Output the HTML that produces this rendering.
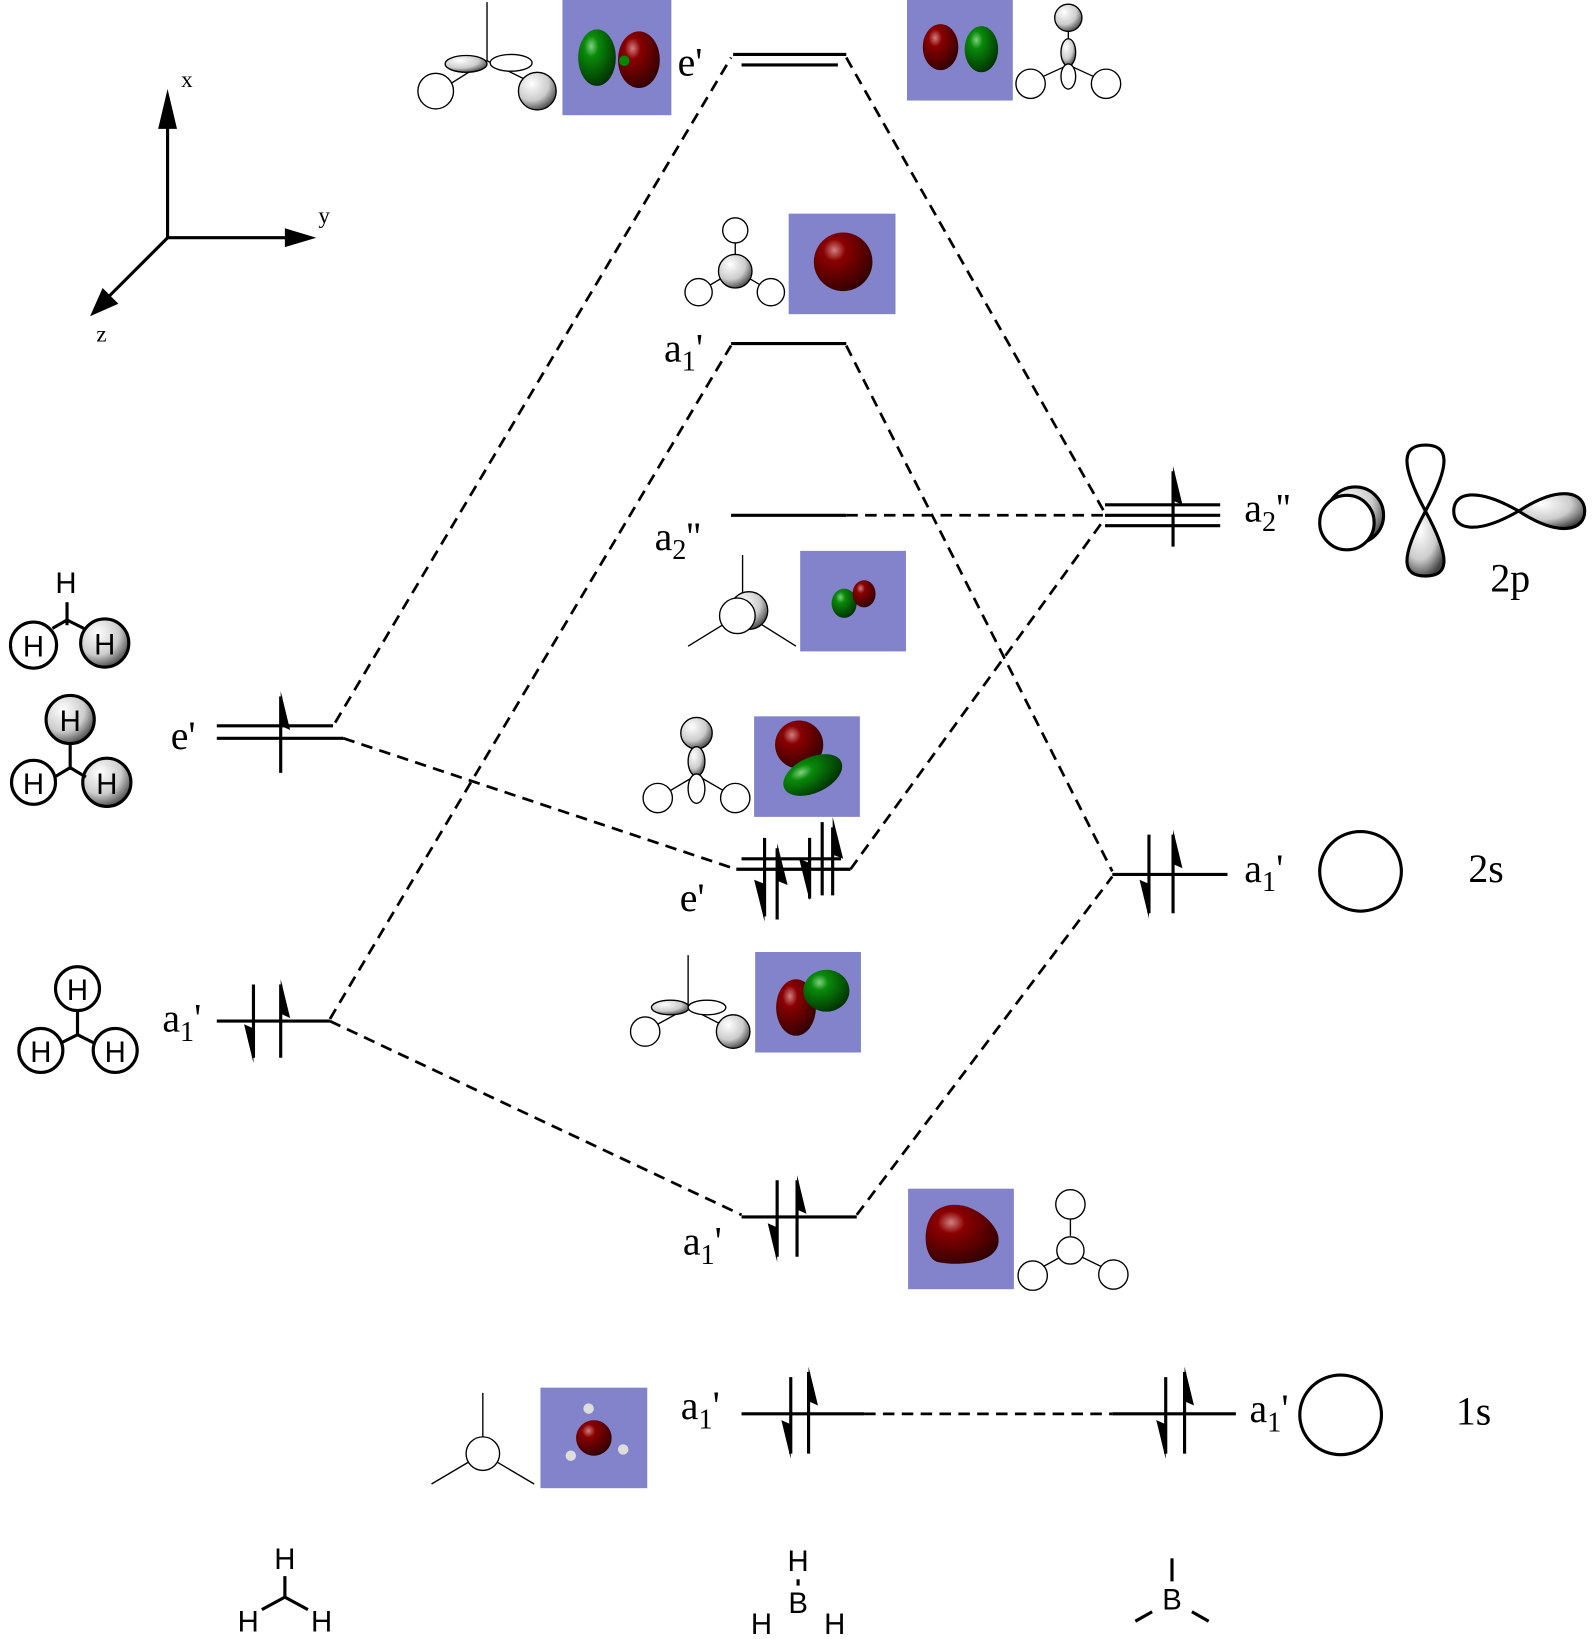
<!DOCTYPE html>
<html><head><meta charset="utf-8"><style>
html,body{margin:0;padding:0;background:#fff;}
svg{display:block}
text{font-family:"Liberation Serif","Times New Roman",serif;fill:#000}
text.s{font-family:"Liberation Sans",sans-serif}
</style></head><body>
<svg width="1592" height="1639" viewBox="0 0 1520 1565" preserveAspectRatio="none" xmlns="http://www.w3.org/2000/svg">
<defs>
<radialGradient id="gw" cx="0.35" cy="0.3" r="0.75"><stop offset="0" stop-color="#fff"/><stop offset="0.6" stop-color="#ccc"/><stop offset="1" stop-color="#444"/></radialGradient>
<radialGradient id="gr" cx="0.35" cy="0.3" r="0.75"><stop offset="0" stop-color="#d08080"/><stop offset="0.25" stop-color="#8a0000"/><stop offset="1" stop-color="#300000"/></radialGradient>
<radialGradient id="gg" cx="0.35" cy="0.3" r="0.75"><stop offset="0" stop-color="#80d080"/><stop offset="0.25" stop-color="#0a8a0a"/><stop offset="1" stop-color="#003000"/></radialGradient>
</defs>
<g stroke="#000" fill="none">
<g stroke-width="3"><line x1="160" y1="227" x2="160" y2="110"/><line x1="160" y1="227" x2="278" y2="227"/><line x1="160" y1="227" x2="100" y2="287"/></g>
</g>
<polygon points="160,85 151,123 169,123" fill="#000"/>
<polygon points="302,227 272,218 272,236" fill="#000"/>
<polygon points="86,302 98,275 113,290" fill="#000"/>
<text x="173" y="83" font-size="22">x</text>
<text x="304" y="213" font-size="22">y</text>
<text x="92" y="326" font-size="22">z</text>

<g fill="#8383cc">
<rect x="537" y="0" width="104" height="110"/><rect x="866" y="0" width="101" height="96"/>
<rect x="753" y="204" width="102" height="96"/><rect x="764" y="526" width="101" height="96"/>
<rect x="720" y="684" width="101" height="96"/><rect x="721" y="909" width="101" height="96"/>
<rect x="867" y="1135" width="101" height="96"/><rect x="516" y="1325" width="102" height="96"/>
</g>
<ellipse cx="570" cy="55" rx="18" ry="27" fill="url(#gg)"/><ellipse cx="610" cy="57" rx="20" ry="27" fill="url(#gr)"/><circle cx="596" cy="58" r="5" fill="#080"/>
<ellipse cx="898" cy="45" rx="17" ry="22" fill="url(#gr)"/><ellipse cx="937" cy="47" rx="16" ry="22" fill="url(#gg)"/>
<circle cx="805" cy="250" r="28" fill="url(#gr)"/>
<ellipse cx="806" cy="576" rx="12" ry="14" fill="url(#gg)"/><ellipse cx="825" cy="567" rx="11" ry="13" fill="url(#gr)"/>
<circle cx="763" cy="711" r="23" fill="url(#gr)"/><ellipse cx="776" cy="740" rx="30" ry="17" transform="rotate(-25 776 740)" fill="url(#gg)"/>
<ellipse cx="760" cy="962" rx="19" ry="27" fill="url(#gr)"/><ellipse cx="789" cy="946" rx="22" ry="20" fill="url(#gg)"/>
<path d="M895 1155 C920 1140 950 1165 953 1180 C958 1205 920 1210 895 1205 C880 1200 880 1165 895 1155Z" fill="url(#gr)"/>
<circle cx="567" cy="1373" r="17" fill="url(#gr)"/><circle cx="562" cy="1345" r="5" fill="#ddd"/><circle cx="545" cy="1390" r="5" fill="#ddd"/><circle cx="595" cy="1384" r="5" fill="#ddd"/>

<g stroke="#000" stroke-width="1.3" fill="#fff">
<line x1="465" y1="2" x2="465" y2="58"/><line x1="430" y1="80" x2="465" y2="58"/><line x1="465" y1="58" x2="510" y2="80"/>
<ellipse cx="445" cy="61" rx="20" ry="8" fill="url(#gw)"/><ellipse cx="488" cy="60" rx="20" ry="8"/>
<circle cx="416" cy="87" r="17"/><circle cx="513" cy="87" r="18" fill="url(#gw)"/>
<line x1="1020" y1="30" x2="1020" y2="62"/><line x1="985" y1="78" x2="1020" y2="62"/><line x1="1020" y1="62" x2="1055" y2="78"/>
<circle cx="1020" cy="17" r="13" fill="url(#gw)"/><ellipse cx="1020" cy="50" rx="7" ry="13" fill="url(#gw)"/><ellipse cx="1020" cy="73" rx="7" ry="12"/>
<circle cx="984" cy="80" r="14"/><circle cx="1056" cy="80" r="14"/>
<line x1="702" y1="232" x2="702" y2="258"/><line x1="668" y1="278" x2="702" y2="258"/><line x1="702" y1="258" x2="736" y2="278"/>
<circle cx="702" cy="220" r="12"/><circle cx="702" cy="259" r="16" fill="url(#gw)"/><circle cx="667" cy="279" r="13"/><circle cx="736" cy="279" r="13"/>
<line x1="709" y1="530" x2="709" y2="585"/><line x1="657" y1="617" x2="709" y2="585"/><line x1="709" y1="585" x2="760" y2="617"/>
<circle cx="715" cy="583" r="18" fill="url(#gw)"/><circle cx="704" cy="588" r="17"/>
<line x1="628" y1="762" x2="665" y2="740"/><line x1="665" y1="740" x2="703" y2="762"/>
<circle cx="665" cy="700" r="15" fill="url(#gw)"/><ellipse cx="665" cy="727" rx="8" ry="14" fill="url(#gw)"/><ellipse cx="665" cy="753" rx="8" ry="14"/>
<circle cx="628" cy="762" r="14"/><circle cx="702" cy="762" r="14"/>
<line x1="657" y1="912" x2="657" y2="962"/><line x1="617" y1="984" x2="657" y2="962"/><line x1="657" y1="962" x2="700" y2="984"/>
<ellipse cx="640" cy="962" rx="18" ry="7" fill="url(#gw)"/><ellipse cx="675" cy="962" rx="18" ry="7"/>
<circle cx="616" cy="985" r="14"/><circle cx="700" cy="985" r="16" fill="url(#gw)"/>
<line x1="1022" y1="1160" x2="1022" y2="1180"/><line x1="986" y1="1215" x2="1022" y2="1195"/><line x1="1022" y1="1195" x2="1063" y2="1215"/>
<circle cx="1022" cy="1150" r="14"/><circle cx="1022" cy="1194" r="13"/><circle cx="986" cy="1218" r="14"/><circle cx="1063" cy="1217" r="14"/>
<line x1="461" y1="1330" x2="461" y2="1388"/><line x1="412" y1="1417" x2="461" y2="1388"/><line x1="461" y1="1388" x2="510" y2="1417"/>
<circle cx="461" cy="1388" r="16"/>
</g>
<g stroke="#000" stroke-width="3" fill="#fff">
<circle cx="1294" cy="492" r="27" fill="url(#gw)"/><circle cx="1286" cy="499" r="26"/>
<path d="M1361 488 C1335 440 1340 425 1361 425 C1382 425 1387 440 1361 488Z"/>
<path d="M1361 488 C1335 536 1340 550 1361 550 C1382 550 1387 536 1361 488Z" fill="url(#gw)"/>
<path d="M1450 488 C1410 465 1388 470 1388 488 C1388 506 1410 511 1450 488Z"/>
<path d="M1450 488 C1490 462 1513 470 1513 488 C1513 506 1490 514 1450 488Z" fill="url(#gw)"/>
<ellipse cx="1299" cy="832" rx="39" ry="38"/><ellipse cx="1280" cy="1351" rx="39" ry="38"/>
<circle cx="32" cy="616" r="22"/><circle cx="100" cy="614" r="23" fill="url(#gw)"/>
<circle cx="67" cy="687" r="23" fill="url(#gw)"/><circle cx="32" cy="747" r="21"/><circle cx="102" cy="747" r="23" fill="url(#gw)"/>
<circle cx="74" cy="944" r="21"/><circle cx="39" cy="1003" r="21"/><circle cx="110" cy="1003" r="21"/>
</g>
<g stroke="#000" stroke-width="3">
<line x1="64" y1="575" x2="64" y2="597"/><line x1="50" y1="600" x2="64" y2="592"/><line x1="64" y1="592" x2="80" y2="600"/>
<line x1="67" y1="710" x2="67" y2="735"/><line x1="52" y1="742" x2="67" y2="733"/><line x1="67" y1="733" x2="82" y2="742"/>
<line x1="74" y1="965" x2="74" y2="988"/><line x1="58" y1="996" x2="74" y2="988"/><line x1="74" y1="988" x2="90" y2="996"/>
</g>
<g font-size="28" text-anchor="middle">
<text class="s" x="63" y="566">H</text><text class="s" x="32" y="627">H</text><text class="s" x="100" y="625">H</text>
<text class="s" x="67" y="698">H</text><text class="s" x="32" y="758">H</text><text class="s" x="102" y="758">H</text>
<text class="s" x="74" y="955">H</text><text class="s" x="39" y="1014">H</text><text class="s" x="110" y="1014">H</text>
<text class="s" x="272" y="1498">H</text><text class="s" x="237" y="1558">H</text><text class="s" x="307" y="1558">H</text>
<text class="s" x="762" y="1500">H</text><text class="s" x="762" y="1540">B</text><text class="s" x="727" y="1560">H</text><text class="s" x="797" y="1560">H</text>
<text class="s" x="1119" y="1537">B</text>
</g>
<g stroke="#000" stroke-width="3" fill="none">
<path d="M272 1505 V1525 L250 1537 M272 1525 L294 1537"/>
<line x1="762" y1="1508" x2="762" y2="1514"/>
<line x1="1119" y1="1488" x2="1119" y2="1510"/><line x1="1084" y1="1548" x2="1100" y2="1539"/><line x1="1138" y1="1539" x2="1154" y2="1548"/>
</g>

<g stroke="#000" stroke-width="2.6" fill="none" stroke-dasharray="11,7">
<line x1="320" y1="690" x2="698" y2="55"/>
<line x1="808" y1="55" x2="1055" y2="490"/>
<line x1="315" y1="973" x2="698" y2="330"/>
<line x1="808" y1="330" x2="1062" y2="832"/>
<line x1="808" y1="492" x2="1055" y2="492"/>
<line x1="328" y1="705" x2="703" y2="830"/>
<line x1="812" y1="830" x2="1055" y2="495"/>
<line x1="315" y1="975" x2="708" y2="1160"/>
<line x1="818" y1="1160" x2="1062" y2="837"/>
<line x1="825" y1="1350" x2="1062" y2="1350"/>
</g>
<g stroke="#000" stroke-width="3" fill="none">
<path d="M700 52 H808 M708 62 H800"/>
<path d="M698 328 H808"/>
<path d="M698 492 H808"/>
<path d="M1055 482 H1165 M1055 492 H1165 M1055 502 H1165"/>
<path d="M708 820 H803 M703 830 H812"/>
<path d="M1062 835 H1172"/>
<path d="M708 1162 H818"/>
<path d="M708 1350 H825 M1062 1350 H1180"/>
<path d="M207 693 H318 M207 705 H328"/>
<path d="M207 975 H315"/>
<path d="M1120 522 V450"/>
<path d="M268 738 V665"/>
<path d="M242 940 V1010 M268 1010 V940"/>
<path d="M730 800 V875 M742 878 V810 M773 800 V858 M785 855 V785 M795 855 V790"/>
<path d="M1097 797 V872 M1120 872 V797"/>
<path d="M742 1127 V1200 M761 1200 V1127"/>
<path d="M755 1315 V1388 M772 1388 V1310"/>
<path d="M1113 1315 V1388 M1131 1388 V1310"/>
</g>
<g fill="#000">
<polygon points="1120,445 1129,482 1120,478"/>
<polygon points="268,660 277,697 268,693"/>
<polygon points="242,1015 233,978 242,982"/>
<polygon points="268,935 277,972 268,968"/>
<polygon points="730,880 720,840 730,844"/>
<polygon points="742,805 752,845 742,841"/>
<polygon points="773,860 763,820 773,824"/>
<polygon points="795,780 805,820 795,816"/>
<polygon points="1097,877 1088,840 1097,844"/>
<polygon points="1120,792 1129,829 1120,825"/>
<polygon points="742,1205 733,1168 742,1172"/>
<polygon points="761,1122 770,1159 761,1155"/>
<polygon points="755,1393 746,1356 755,1360"/>
<polygon points="772,1305 781,1342 772,1338"/>
<polygon points="1113,1393 1104,1356 1113,1360"/>
<polygon points="1131,1305 1140,1342 1131,1338"/>
</g>

<g font-size="38">
<text x="647" y="72">e'</text>
<text x="634" y="345">a<tspan font-size="27" dy="9">1</tspan><tspan dy="-9">'</tspan></text>
<text x="625" y="525">a<tspan font-size="27" dy="9">2</tspan><tspan dy="-9">''</tspan></text>
<text x="1188" y="498">a<tspan font-size="27" dy="9">2</tspan><tspan dy="-9">''</tspan></text>
<text x="1423" y="565">2p</text>
<text x="163" y="715">e'</text>
<text x="649" y="870">e'</text>
<text x="155" y="985">a<tspan font-size="27" dy="9">1</tspan><tspan dy="-9">'</tspan></text>
<text x="1188" y="842">a<tspan font-size="27" dy="9">1</tspan><tspan dy="-9">'</tspan></text>
<text x="1402" y="842">2s</text>
<text x="652" y="1198">a<tspan font-size="27" dy="9">1</tspan><tspan dy="-9">'</tspan></text>
<text x="650" y="1355">a<tspan font-size="27" dy="9">1</tspan><tspan dy="-9">'</tspan></text>
<text x="1193" y="1358">a<tspan font-size="27" dy="9">1</tspan><tspan dy="-9">'</tspan></text>
<text x="1390" y="1360">1s</text>
</g>
</svg>
</body></html>
